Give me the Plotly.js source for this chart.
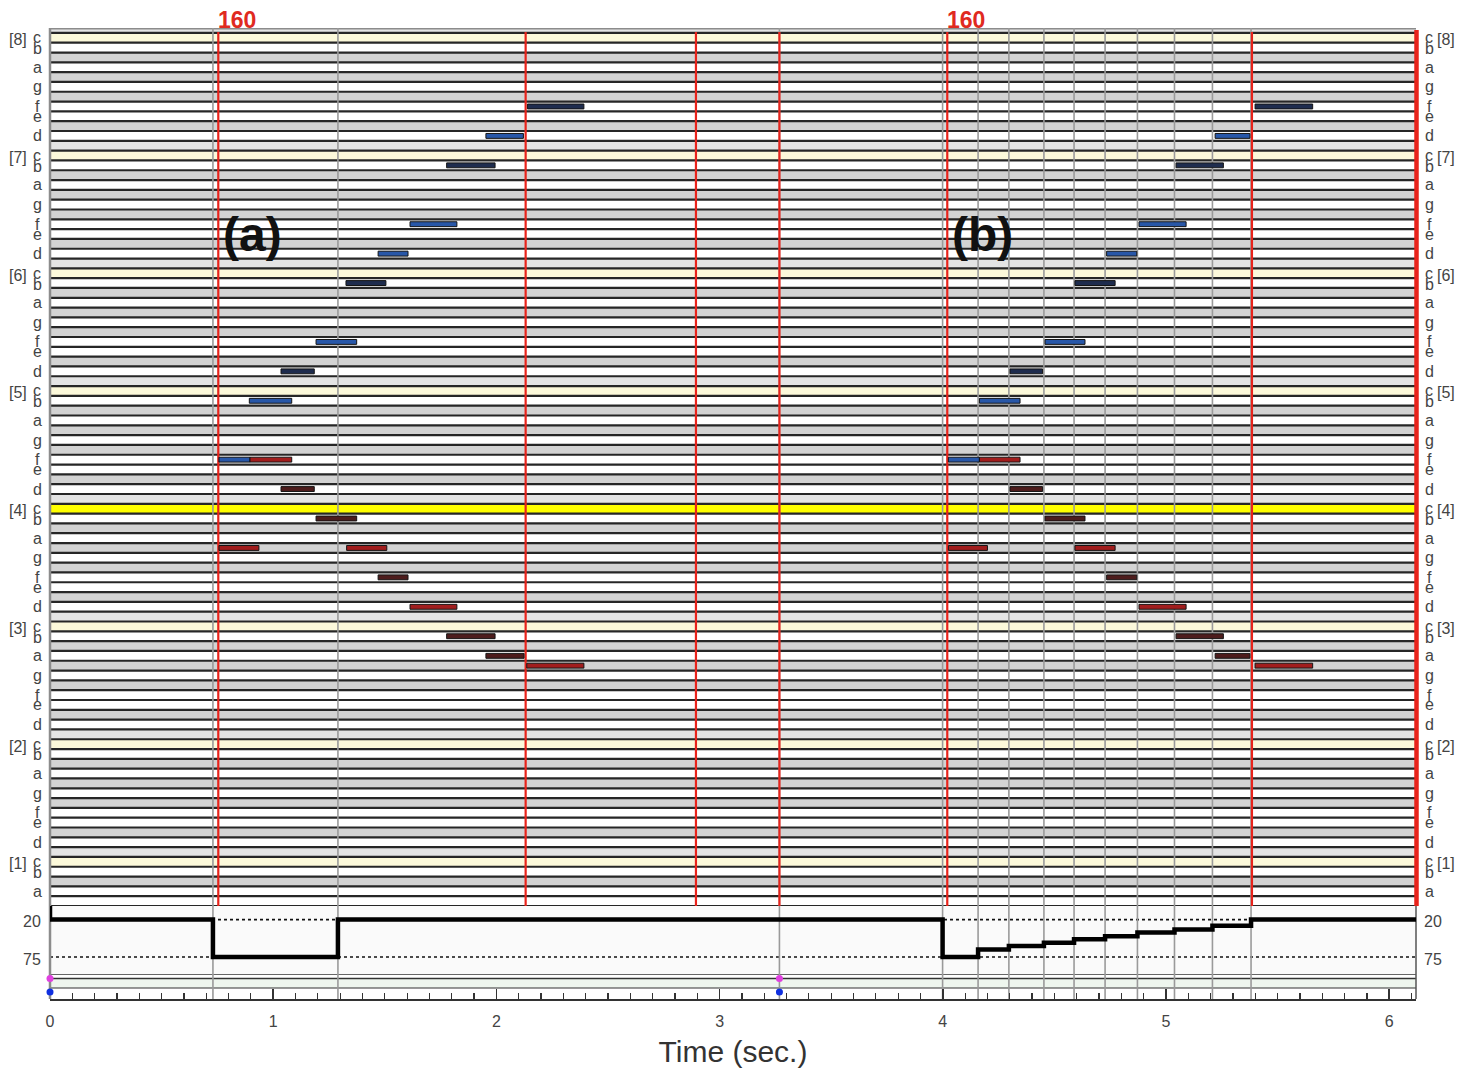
<!DOCTYPE html>
<html><head><meta charset="utf-8">
<script src="https://cdn.plot.ly/plotly-3.0.1.min.js"></script>
<style>html,body{margin:0;padding:0;background:#fff}#chart{width:1472px;height:1069px}</style>
</head><body><div id="chart"></div>
<script>
// ---------- data ----------
const X_MAX = 6.12;
const PITCH_LOW = 20, PITCH_HIGH = 108;
const letterOfPc = {0:'c',2:'d',4:'e',5:'f',7:'g',9:'a',11:'b'};

// example (a) – upper voice (blue)
const upperPitch = [65, 71, 74, 77, 83, 86, 89, 95, 98, 101];
const aUpperStart = [0.757, 0.893, 1.035, 1.192, 1.326, 1.470, 1.613, 1.777, 1.953, 2.139];
const aUpperEnd   = [0.896, 1.083, 1.184, 1.374, 1.505, 1.604, 1.823, 1.994, 2.121, 2.392];
// example (a) – lower voice (red)
const lowerPitch = [56, 65, 62, 59, 56, 53, 50, 47, 45, 44];
const aLowerStart = [0.757, 0.896, 1.035, 1.192, 1.329, 1.470, 1.613, 1.777, 1.953, 2.136];
const aLowerEnd   = [0.936, 1.083, 1.184, 1.374, 1.509, 1.604, 1.823, 1.994, 2.124, 2.392];
// example (b)
const bUpperStart = [4.025, 4.164, 4.301, 4.458, 4.592, 4.734, 4.879, 5.045, 5.220, 5.399];
const bUpperEnd   = [4.164, 4.346, 4.447, 4.637, 4.772, 4.869, 5.090, 5.257, 5.376, 5.657];
const bLowerStart = [4.025, 4.164, 4.301, 4.458, 4.592, 4.734, 4.879, 5.045, 5.220, 5.399];
const bLowerEnd   = [4.200, 4.346, 4.447, 4.637, 4.772, 4.869, 5.090, 5.257, 5.376, 5.657];
// accent (1 = bright, 0 = dark) per note
const upperAccent = [1, 1, 0, 1, 0, 1, 1, 0, 1, 0];
const lowerAccent = [1, 1, 0, 0, 1, 0, 1, 0, 0, 1];

// tempo / velocity curve (step)
const tempoTimes  = [0, 0, 0.730, 1.290, 3.999, 4.158, 4.296, 4.453, 4.588, 4.727, 4.872, 5.038, 5.208, 5.381, 6.12];
const tempoValues = [0, 20, 75, 20, 75, 64, 59, 54, 49, 44.5, 39, 34.5, 29, 20, 20];
const tempoLevels = [20, 75];

// event markers
const grayLineTimes = [0.730, 1.290, 3.268, 3.999, 4.158, 4.296, 4.453, 4.588, 4.727, 4.872, 5.038, 5.208, 5.381];
const redLineTimes  = [0.754, 2.131, 2.894, 3.268, 4.020, 5.385];
const beatMarkTimes = [0.754, 4.020];
const beatMarkText  = ['160', '160'];
const labelTimes    = [0.768, 4.030];
const labelText     = ['(a)', '(b)'];
const labelPitch    = 88;
const dotTimes      = [0, 3.268];

// ---------- build ----------
const FONT = 'Liberation Sans, Arial, sans-serif';
const H = 971; // plot area height in px
const mainDom = [93 / H, 1];
const tempoDom = [25 / H, 93 / H];
const stripDom = [0, 25 / H];

function barTrace(starts, ends, pitches, accents, bright, dark) {
  return {
    type: 'bar', orientation: 'h', xaxis: 'x', yaxis: 'y',
    base: starts, x: ends.map((e, i) => e - starts[i]), y: pitches,
    width: 0.5,
    marker: { color: accents.map(a => a ? bright : dark), line: { color: '#141414', width: 1 } },
    hoverinfo: 'skip', showlegend: false
  };
}
const BLUE = '#2857a8', NAVY = '#1e2c4e', RED = '#a11d1d', BROWN = '#4d1c1c';
const traces = [
  barTrace(aUpperStart, aUpperEnd, upperPitch, upperAccent, BLUE, NAVY),
  barTrace(bUpperStart, bUpperEnd, upperPitch, upperAccent, BLUE, NAVY),
  barTrace(aLowerStart, aLowerEnd, lowerPitch, lowerAccent, RED, BROWN),
  barTrace(bLowerStart, bLowerEnd, lowerPitch, lowerAccent, RED, BROWN),
  { type: 'scatter', mode: 'lines', xaxis: 'x', yaxis: 'y2', x: tempoTimes, y: tempoValues,
    line: { shape: 'hv', color: '#000', width: 4.5 }, hoverinfo: 'skip', showlegend: false, cliponaxis: false },
  { type: 'scatter', mode: 'markers', xaxis: 'x', yaxis: 'y3',
    x: dotTimes.concat(dotTimes), y: dotTimes.map(() => 20.5).concat(dotTimes.map(() => 7)),
    marker: { size: 7, color: dotTimes.map(() => '#e040e0').concat(dotTimes.map(() => '#1030e0')) },
    cliponaxis: false, hoverinfo: 'skip', showlegend: false }
];

const shapes = [];
function rowColor(p) {
  const pc = p % 12;
  if (p === 60) return '#ffff00';
  if (p === PITCH_LOW) return '#ffffff';
  if (pc === 0) return '#fcf9da';
  if (pc === 1) return '#e4e4e4';
  if ([3, 6, 8, 10].includes(pc)) return '#d3d3d3';
  return '#ffffff';
}
// tempo panel background
shapes.push({ type: 'rect', layer: 'below', xref: 'paper', yref: 'y2', x0: 0, x1: 1, y0: 0, y1: 100,
  fillcolor: '#fafafa', line: { width: 0 } });
// strip background
shapes.push({ type: 'rect', layer: 'below', xref: 'paper', yref: 'y3', x0: 0, x1: 1, y0: 11, y1: 20.5,
  fillcolor: '#eef6ee', line: { width: 0 } });
[25, 20.5, 11].forEach(v => shapes.push({ type: 'line', layer: 'below', xref: 'paper', yref: 'y3',
  x0: 0, x1: 1, y0: v, y1: v, line: { color: '#333', width: v === 11 ? 1 : 1.5 } }));
// rows
for (let p = PITCH_LOW; p <= PITCH_HIGH + 1; p++) {
  shapes.push({ type: 'rect', layer: 'below', xref: 'paper', yref: 'y', x0: 0, x1: 1,
    y0: p - 0.5, y1: Math.min(p + 0.5, 109), fillcolor: rowColor(p), line: { width: 0 } });
}
for (let p = PITCH_LOW; p <= PITCH_HIGH + 1; p++) {
  shapes.push({ type: 'line', layer: 'below', xref: 'paper', yref: 'y', x0: 0, x1: 1,
    y0: p - 0.5, y1: p - 0.5, line: { color: '#262626', width: 2.2 } });
}
// dotted tempo levels
tempoLevels.forEach(v => shapes.push({ type: 'line', layer: 'below', xref: 'paper', yref: 'y2',
  x0: 0, x1: 1, y0: v, y1: v, line: { color: '#111', width: 1.6, dash: 'dot' } }));
// frame
shapes.push({ type: 'line', layer: 'below', xref: 'paper', yref: 'y', x0: 0, x1: 1, y0: 109, y1: 109,
  line: { color: '#8c8c8c', width: 3 } });
shapes.push({ type: 'line', layer: 'below', xref: 'paper', yref: 'paper', x0: 0, x1: 0, y0: 0, y1: 1,
  line: { color: '#8c8c8c', width: 2.5 } });
shapes.push({ type: 'line', layer: 'below', xref: 'paper', yref: 'paper', x0: 1, x1: 1, y0: 0, y1: mainDom[0],
  line: { color: '#555', width: 1.5 } });
// gray event lines
grayLineTimes.forEach(t => shapes.push({ type: 'line', layer: 'below', xref: 'x', yref: 'paper',
  x0: t, x1: t, y0: 0, y1: 1, line: { color: '#9a9a9a', width: 1.6 } }));
// red lines
redLineTimes.forEach(t => shapes.push({ type: 'line', layer: 'below', xref: 'x', yref: 'paper',
  x0: t, x1: t, y0: mainDom[0], y1: 1 - 4 / H, line: { color: '#e8231b', width: 2.2 } }));
shapes.push({ type: 'line', layer: 'above', xref: 'paper', yref: 'paper', x0: 1 + 0.5 / 1366, x1: 1 + 0.5 / 1366,
  y0: mainDom[0], y1: 1 - 2 / H, line: { color: '#e8231b', width: 4.5 } });

const annotations = [];
const labFont = { family: FONT, size: 16, color: '#444' };
for (let p = 21; p <= PITCH_HIGH; p++) {
  const L = letterOfPc[p % 12];
  if (!L) continue;
  const ys = L === 'c' ? 0 : (L === 'b' ? -1 : 0);
  annotations.push({ xref: 'paper', yref: 'y', x: 0, y: p, xshift: -13, yshift: ys, text: L,
    showarrow: false, xanchor: 'center', yanchor: 'middle', font: labFont });
  annotations.push({ xref: 'paper', yref: 'y', x: 1, y: p, xshift: 13, yshift: ys, text: L,
    showarrow: false, xanchor: 'center', yanchor: 'middle', font: labFont });
  if (L === 'c') {
    const oct = '[' + (Math.floor(p / 12) - 1) + ']';
    annotations.push({ xref: 'paper', yref: 'y', x: 0, y: p, xshift: -32, yshift: -2, text: oct,
      showarrow: false, xanchor: 'center', yanchor: 'middle', font: labFont });
    annotations.push({ xref: 'paper', yref: 'y', x: 1, y: p, xshift: 30, yshift: -2, text: oct,
      showarrow: false, xanchor: 'center', yanchor: 'middle', font: labFont });
  }
}
tempoLevels.forEach(v => {
  annotations.push({ xref: 'paper', yref: 'y2', x: 0, y: v, xshift: -18, yshift: -2, text: String(v), showarrow: false,
    xanchor: 'center', yanchor: 'middle', font: labFont });
  annotations.push({ xref: 'paper', yref: 'y2', x: 1, y: v, xshift: 17, yshift: -2, text: String(v), showarrow: false,
    xanchor: 'center', yanchor: 'middle', font: labFont });
});
beatMarkTimes.forEach((t, i) => annotations.push({ xref: 'x', yref: 'paper', x: t, y: 1, yshift: 8,
  text: '<b>' + beatMarkText[i] + '</b>', showarrow: false, xanchor: 'left', yanchor: 'middle',
  xshift: -2, font: { family: FONT, size: 23, color: '#e02a20' } }));
labelTimes.forEach((t, i) => annotations.push({ xref: 'x', yref: 'y', x: t, y: labelPitch,
  text: '<b>' + labelText[i] + '</b>', showarrow: false, xanchor: 'left', yanchor: 'middle',
  font: { family: FONT, size: 48, color: '#111' } }));

const layout = {
  width: 1472, height: 1069,
  margin: { l: 50, r: 56, t: 28, b: 70 },
  paper_bgcolor: '#fff', plot_bgcolor: '#fff',
  barmode: 'overlay', showlegend: false,
  xaxis: {
    range: [0, X_MAX], anchor: 'y3', domain: [0, 1],
    showline: true, linecolor: '#333', linewidth: 1.5,
    ticks: 'inside', ticklen: 10, tickwidth: 1.5, tickcolor: '#333',
    tick0: 0, dtick: 1, ticklabelstandoff: 7,
    minor: { tick0: 0, dtick: 0.1, ticks: 'inside', ticklen: 6, tickwidth: 1.2, tickcolor: '#333', showgrid: false },
    showgrid: false, zeroline: false, fixedrange: true,
    tickfont: { family: FONT, size: 16, color: '#444' },
    title: { text: 'Time (sec.)', font: { family: FONT, size: 30, color: '#333' }, standoff: 12 },
    automargin: false
  },
  yaxis:  { domain: mainDom, range: [19.5, 109], visible: false, fixedrange: true },
  yaxis2: { domain: tempoDom, range: [100, 0], visible: false, fixedrange: true },
  yaxis3: { domain: stripDom, range: [0, 25], visible: false, fixedrange: true },
  shapes: shapes, annotations: annotations
};
Plotly.newPlot('chart', traces, layout, { displayModeBar: false, staticPlot: true });
</script>
</body></html>
